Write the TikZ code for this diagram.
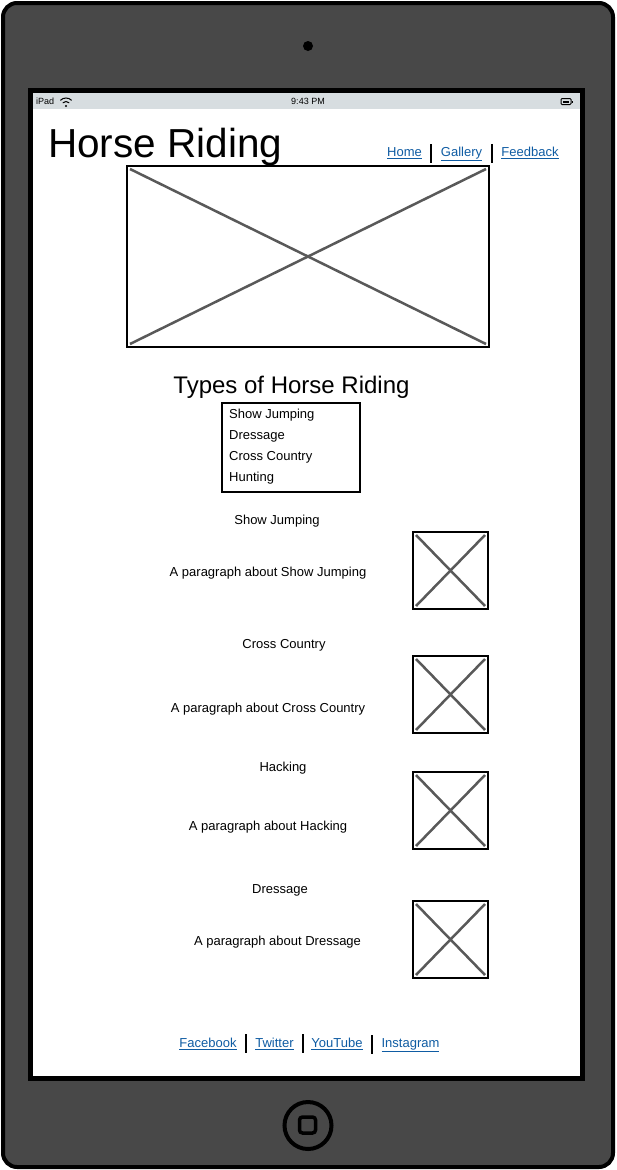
\documentclass[tikz,border=0pt]{standalone}
\usepackage{fontspec}
\setmainfont{Liberation Sans}
\usetikzlibrary{calc}
\definecolor{deviceGray}{HTML}{484848}
\definecolor{barGray}{HTML}{D7DDE0}
\definecolor{linkBlue}{HTML}{0F5CA3}
\definecolor{crossGray}{HTML}{595959}
\tikzset{%
  % Specifications for style of nodes:
       txt/.style = {inner sep=0pt, anchor=base, font=\fontsize{13}{15}\selectfont},
   navlink/.style = {txt, text=linkBlue},
  listitem/.style = {txt, anchor=base west},
    imgbox/.style = {draw=black, line width=2pt, inner sep=0pt,
                     minimum width=75pt, minimum height=77pt},
     cross/.style = {draw=crossGray, line width=2.5pt},
   navsep/.style = {draw=black, line width=2pt},
}

\begin{document}
\begin{tikzpicture}[x=1pt, y=-1pt]
  \useasboundingbox (0,0) rectangle (616,1170);
  % Device and screen
  \draw[line width=4pt, fill=deviceGray, rounded corners=14pt] (3,3) rectangle (613,1167);
  \fill (308,46) circle[radius=5pt];
  \draw[line width=5pt, fill=white] (30.5,90.5) rectangle (582.5,1078.5);
  \fill[barGray] (33,93) rectangle (580,109);
  % Status bar
  \node (ipad) [txt, anchor=base west, font=\fontsize{9}{10}\selectfont] at (36,104.5) {iPad};
  \node (clock) [txt, font=\fontsize{9}{10}\selectfont] at (308,104.5) {9:43 PM};
  \fill (66,106) circle[radius=1.2pt];
  \draw[line width=1pt] (66,106) ++(135:4.5pt) arc[start angle=135, end angle=45, radius=4.5pt];
  \draw[line width=1pt] (66,106) ++(135:8pt) arc[start angle=135, end angle=45, radius=8pt];
  \draw[line width=1pt, rounded corners=1pt] (561,98.5) rectangle (571,104.5);
  \fill (563,100.5) rectangle (569,102.5);
  \fill (572,100.5) rectangle (573,102.5);
  % Header
  \node (title) [txt, anchor=base west, font=\fontsize{40.5}{42}\selectfont] at (48,157) {Horse Riding};
  \node (home)     [navlink] at (404.5,156.5) {\underline{Home}};
  \node (gallery)  [navlink] at (461.5,156.5) {\underline{Gallery}};
  \node (feedback) [navlink] at (530,156.5)   {\underline{Feedback}};
  \draw[navsep] ($(home.east)!.5!(gallery.west)$) ++(0,-9.5) -- ++(0,19);
  \draw[navsep] ($(gallery.east)!.5!(feedback.west)$) ++(0,-9.5) -- ++(0,19);
  % Hero image
  \node (hero) [imgbox, minimum width=362pt, minimum height=181pt] at (308,256.5) {};
  \draw[cross] ($(hero.north west)+(4,4)$) -- ($(hero.south east)+(-4,-4)$);
  \draw[cross] ($(hero.north east)+(-4,4)$) -- ($(hero.south west)+(4,-4)$);
  % Types list
  \node (types) [txt, font=\fontsize{24}{26}\selectfont] at (291.5,393) {Types of Horse Riding};
  \node (typelist) [imgbox, minimum width=138pt, minimum height=89pt] at (291,447.5) {};
  \node (itemSJ) [listitem] at (229,418.5) {Show Jumping};
  \node (itemDR) [listitem] at (229,439.5) {Dressage};
  \node (itemCC) [listitem] at (229,460.5) {Cross Country};
  \node (itemHU) [listitem] at (229,481.5) {Hunting};
  % Sections
  \node (headSJ) [txt] at (277,524.5) {Show Jumping};
  \node (paraSJ) [txt] at (268,576.5) {A paragraph about Show Jumping};
  \node (imgSJ)  [imgbox] at (450.5,570.5) {};
  \node (headCC) [txt] at (284,648.5) {Cross Country};
  \node (paraCC) [txt] at (268,712.5) {A paragraph about Cross Country};
  \node (imgCC)  [imgbox] at (450.5,694.5) {};
  \node (headHA) [txt] at (283,771.5) {Hacking};
  \node (paraHA) [txt] at (268,830.5) {A paragraph about Hacking};
  \node (imgHA)  [imgbox] at (450.5,810.5) {};
  \node (headDR) [txt] at (280,893.5) {Dressage};
  \node (paraDR) [txt] at (277.5,945.5) {A paragraph about Dressage};
  \node (imgDR)  [imgbox] at (450.5,939.5) {};
  \draw[cross] ($(imgSJ.north west)+(4,4)$) -- ($(imgSJ.south east)+(-4,-4)$);
  \draw[cross] ($(imgSJ.north east)+(-4,4)$) -- ($(imgSJ.south west)+(4,-4)$);
  \draw[cross] ($(imgCC.north west)+(4,4)$) -- ($(imgCC.south east)+(-4,-4)$);
  \draw[cross] ($(imgCC.north east)+(-4,4)$) -- ($(imgCC.south west)+(4,-4)$);
  \draw[cross] ($(imgHA.north west)+(4,4)$) -- ($(imgHA.south east)+(-4,-4)$);
  \draw[cross] ($(imgHA.north east)+(-4,4)$) -- ($(imgHA.south west)+(4,-4)$);
  \draw[cross] ($(imgDR.north west)+(4,4)$) -- ($(imgDR.south east)+(-4,-4)$);
  \draw[cross] ($(imgDR.north east)+(-4,4)$) -- ($(imgDR.south west)+(4,-4)$);
  % Footer
  \node (facebook)  [navlink] at (208,1047.5)   {\underline{Facebook}};
  \node (twitter)   [navlink] at (274.5,1047.5) {\underline{Twitter}};
  \node (youtube)   [navlink] at (337,1047.5)   {\underline{YouTube}};
  \node (instagram) [navlink] at (410.5,1047.5) {\underline{Instagram}};
  \draw[navsep] ($(facebook.east)!.5!(twitter.west)$) ++(0,-9.5) -- ++(0,19);
  \draw[navsep] ($(twitter.east)!.5!(youtube.west)$) ++(0,-9.5) -- ++(0,19);
  \draw[navsep] ($(youtube.east)!.5!(instagram.west)$) ++(0,-9.5) -- ++(0,19);
  % Home button
  \draw[line width=4pt] (308,1125.5) circle[radius=23.5pt];
  \draw[line width=3.5pt, rounded corners=3pt] (299.5,1117) rectangle (315.5,1133);
\end{tikzpicture}
\end{document}
